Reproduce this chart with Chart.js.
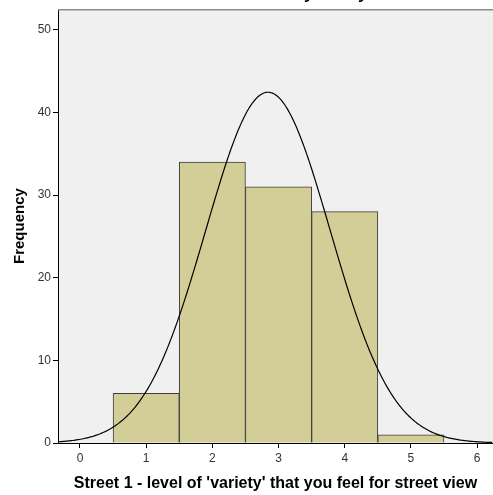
<!DOCTYPE html>
<html>
<head>
<meta charset="utf-8">
<script src="https://cdn.jsdelivr.net/npm/chart.js@4.4.1/dist/chart.umd.min.js"></script>
<style>
  html, body { margin: 0; padding: 0; background: #ffffff; }
  #wrap { width: 493px; height: 495px; position: relative; }
</style>
</head>
<body>
<div id="wrap"><canvas id="hist"></canvas></div>
<script>
// Histogram of ratings (1–5) with fitted normal curve
const categories = [1, 2, 3, 4, 5];
const frequencies = [6, 34, 31, 28, 1];
const xTicks = [0, 1, 2, 3, 4, 5, 6];
const yTicks = [0, 10, 20, 30, 40, 50];
const titleText = "Street 1 - level of 'variety' that you feel for street view";
const xLabel = "Street 1 - level of 'variety' that you feel for street view";
const yLabel = "Frequency";

const X_MIN = -0.332, X_MAX = 6.24, Y_MAX = 52.5;
const FONT = '"Liberation Sans", Arial, sans-serif';

// Fitted normal: mean and sample SD from the frequency table, scaled by N * bin width
const N = frequencies.reduce((a, b) => a + b, 0);
const mean = categories.reduce((s, c, i) => s + c * frequencies[i], 0) / N;
const variance = categories.reduce((s, c, i) => s + frequencies[i] * (c - mean) ** 2, 0) / (N - 1);
const sd = Math.sqrt(variance);
const curve = [];
for (let x = X_MIN; x <= X_MAX + 1e-9; x += 0.02) {
  const y = N * Math.exp(-0.5 * ((x - mean) / sd) ** 2) / (sd * Math.sqrt(2 * Math.PI));
  curve.push({ x: x, y: y });
}

const bars = categories.map((c, i) => ({ x: c, y: frequencies[i] }));

const panel = {
  id: 'panel',
  beforeDraw(chart) {
    const { ctx, chartArea: a } = chart;
    ctx.save();
    ctx.fillStyle = '#f0f0f0';
    ctx.fillRect(a.left, a.top, a.right - a.left, a.bottom - a.top);
    ctx.restore();
  },
  afterDraw(chart) {
    const { ctx, chartArea: a } = chart;
    ctx.save();
    ctx.strokeStyle = '#8c8c8c';
    ctx.lineWidth = 1.5;
    ctx.beginPath();
    ctx.moveTo(a.left, a.top + 0.5);
    ctx.lineTo(a.right, a.top + 0.5);
    ctx.stroke();
    // chart title, sitting mostly above the visible frame
    ctx.fillStyle = '#000';
    ctx.font = 'bold 17px ' + FONT;
    ctx.textAlign = 'center';
    ctx.textBaseline = 'alphabetic';
    ctx.fillText(titleText, 328, -1);
    ctx.restore();
  }
};

new Chart(document.getElementById('hist'), {
  data: {
    datasets: [
      {
        type: 'line',
        data: curve,
        borderColor: '#000000',
        borderWidth: 1.2,
        pointRadius: 0,
        tension: 0,
        fill: false,
        order: 0
      },
      {
        type: 'bar',
        data: bars,
        backgroundColor: '#d3ce98',
        borderColor: '#3c3c3c',
        borderWidth: 1,
        barPercentage: 1,
        categoryPercentage: 1,
        order: 1
      }
    ]
  },
  options: {
    responsive: true,
    maintainAspectRatio: false,
    animation: false,
    layout: { padding: { top: 7, right: 0, left: 0, bottom: 0 } },
    plugins: { legend: { display: false }, tooltip: { enabled: false } },
    scales: {
      x: {
        type: 'linear',
        offset: false,
        min: X_MIN,
        max: X_MAX,
        afterBuildTicks(axis) { axis.ticks = xTicks.map(v => ({ value: v })); },
        afterFit(axis) { axis.height = 52; },
        grid: { display: true, offset: false, drawOnChartArea: false, drawTicks: true, tickLength: 5, color: '#000' },
        border: { display: true, color: '#000', width: 1 },
        ticks: { color: '#333', font: { family: FONT, size: 12 }, padding: 3, maxRotation: 0 },
        title: {
          display: true, text: xLabel, color: '#000',
          font: { family: FONT, size: 16, weight: 'bold' },
          padding: { top: 6, bottom: 2 }
        }
      },
      y: {
        type: 'linear',
        min: 0,
        max: Y_MAX,
        afterBuildTicks(axis) { axis.ticks = yTicks.map(v => ({ value: v })); },
        afterFit(axis) { axis.width = 58; },
        grid: { display: true, drawOnChartArea: false, drawTicks: true, tickLength: 5, color: '#000' },
        border: { display: true, color: '#000', width: 1 },
        ticks: { color: '#333', font: { family: FONT, size: 12 }, padding: 2 },
        title: {
          display: true, text: yLabel, color: '#000',
          font: { family: FONT, size: 15, weight: 'bold' },
          padding: { top: 11, bottom: 4 }
        }
      }
    }
  },
  plugins: [panel]
});
</script>
</body>
</html>
